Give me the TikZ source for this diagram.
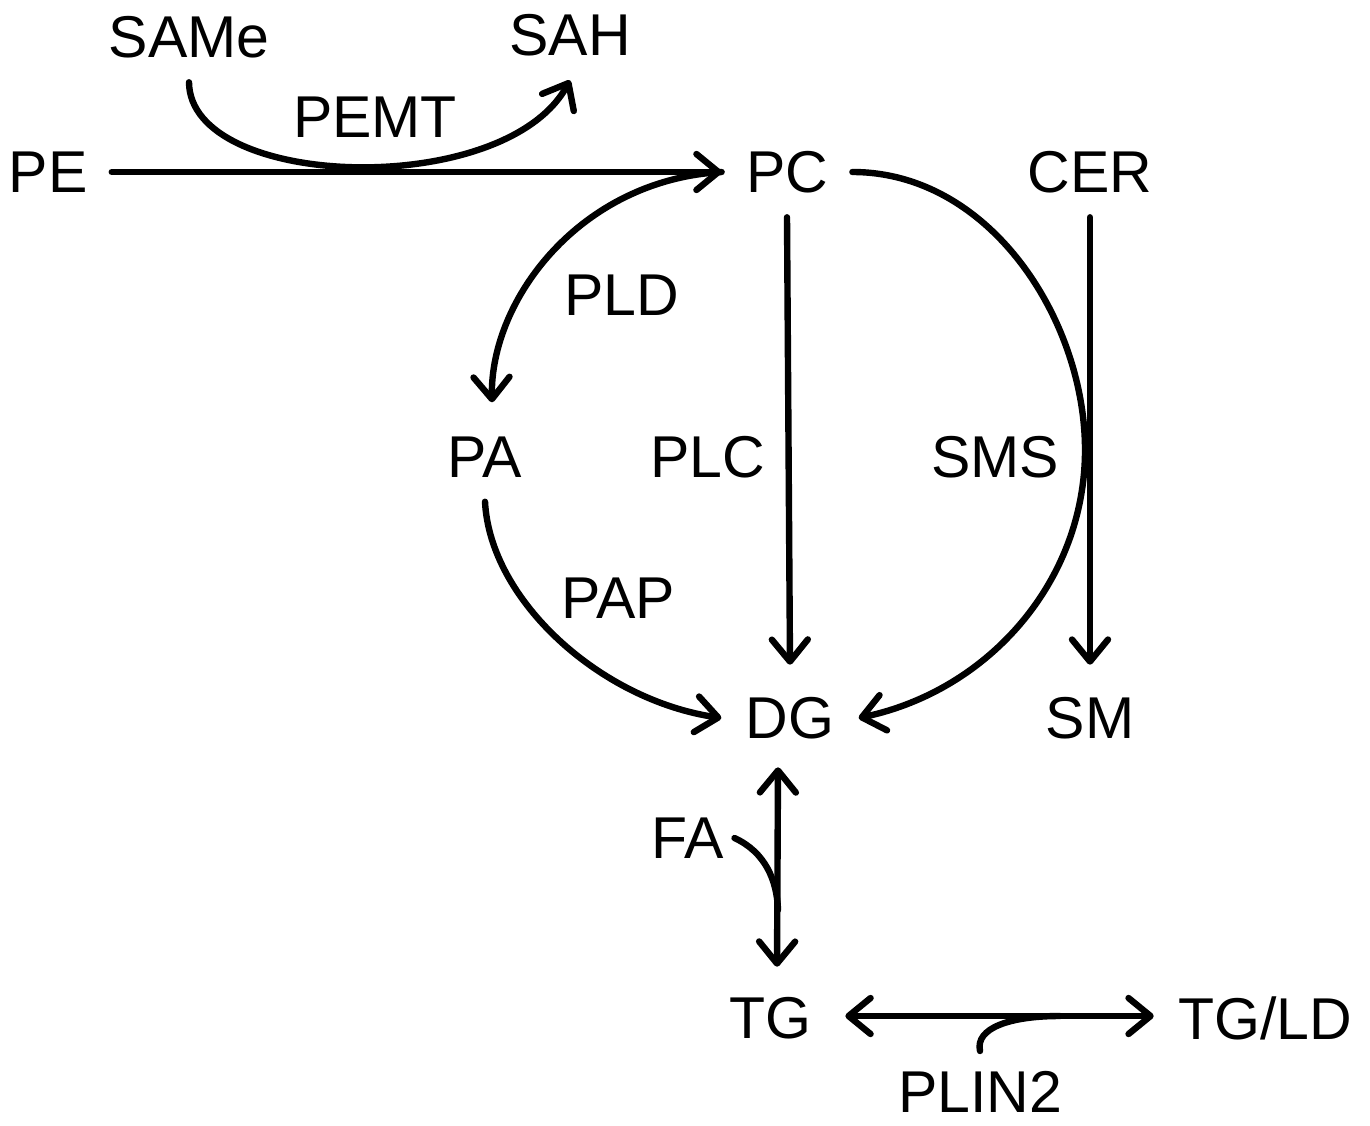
\documentclass[tikz,border=0pt]{standalone}
\usepackage{fontspec}
\setmainfont{Liberation Sans}
\usetikzlibrary{arrows.meta}
\begin{document}
\begin{tikzpicture}[x=0.5pt,y=-0.5pt,
  lbl/.style={inner sep=12pt,font=\fontsize{29.5}{35}\selectfont},
  tag/.style={inner sep=0pt,font=\fontsize{29.5}{35}\selectfont},
  conn/.style={line width=3.2pt,line cap=round},
  tip/.tip={Straight Barb[length=11pt,width=18pt,round]},
  >=tip]
\useasboundingbox (0,0) rectangle (1370,1125);
% metabolites
\node[lbl] (SAMe) at (189,37) {SAMe};
\node[lbl] (SAH) at (570,35) {SAH};
\node[lbl] (PE) at (48,172) {PE};
\node[lbl] (PC) at (787,172) {PC};
\node[lbl] (CER) at (1090,172) {CER};
\node[lbl] (PA) at (485,457) {PA};
\node[lbl] (DG) at (790,718) {DG};
\node[lbl] (SM) at (1090,718) {SM};
\node[lbl,inner sep=5pt] (FA) at (688,838) {FA};
\node[lbl] (TG) at (770,1018) {TG};
\node[lbl] (TGLD) at (1265,1018) {TG/LD};
\node[lbl,inner sep=1pt] (PLIN2) at (980,1092) {PLIN2};
% enzyme labels
\node[tag] (PEMT) at (375,117) {PEMT};
\node[tag] (PLD) at (622,295) {PLD};
\node[tag] (PLC) at (708,457) {PLC};
\node[tag] (SMS) at (995,457) {SMS};
\node[tag] (PAP) at (618,598) {PAP};
% connectors
\draw[conn,->] (PE.east) -- (PC.west);
\draw[conn,->] (SAMe.south) .. controls (190,190) and (505,200) .. (SAH.south);
\draw[conn,->] (PC.west) .. controls (580,180) and (490,300) .. ([xshift=3.5pt,yshift=5pt]PA.north);
\draw[conn,->] (PC.south) -- ([yshift=4pt]DG.north);
\draw[conn,->] (PA.south) .. controls (490,600) and (600,700) .. (DG.west);
\draw[conn,->] (PC.east) .. controls (990,172) and (1085,320) .. (1085,450)
  .. controls (1085,580) and (990,690) .. (DG.east);
\draw[conn,->] (CER.south) -- ([yshift=4pt]SM.north);
\draw[conn,<->] ([xshift=-6pt,yshift=-2pt]DG.south) -- ([xshift=3.5pt,yshift=3pt]TG.north);
\draw[conn] (FA.east) .. controls (765,852) and (777,880) .. (778,910);
\draw[conn,<->] ([xshift=5pt,yshift=1pt]TG.east) -- ([yshift=1pt]TGLD.west);
\draw[conn] ([yshift=9pt]PLIN2.north) .. controls (975,1028) and (1010,1016) .. (1060,1016);
\end{tikzpicture}
\end{document}
